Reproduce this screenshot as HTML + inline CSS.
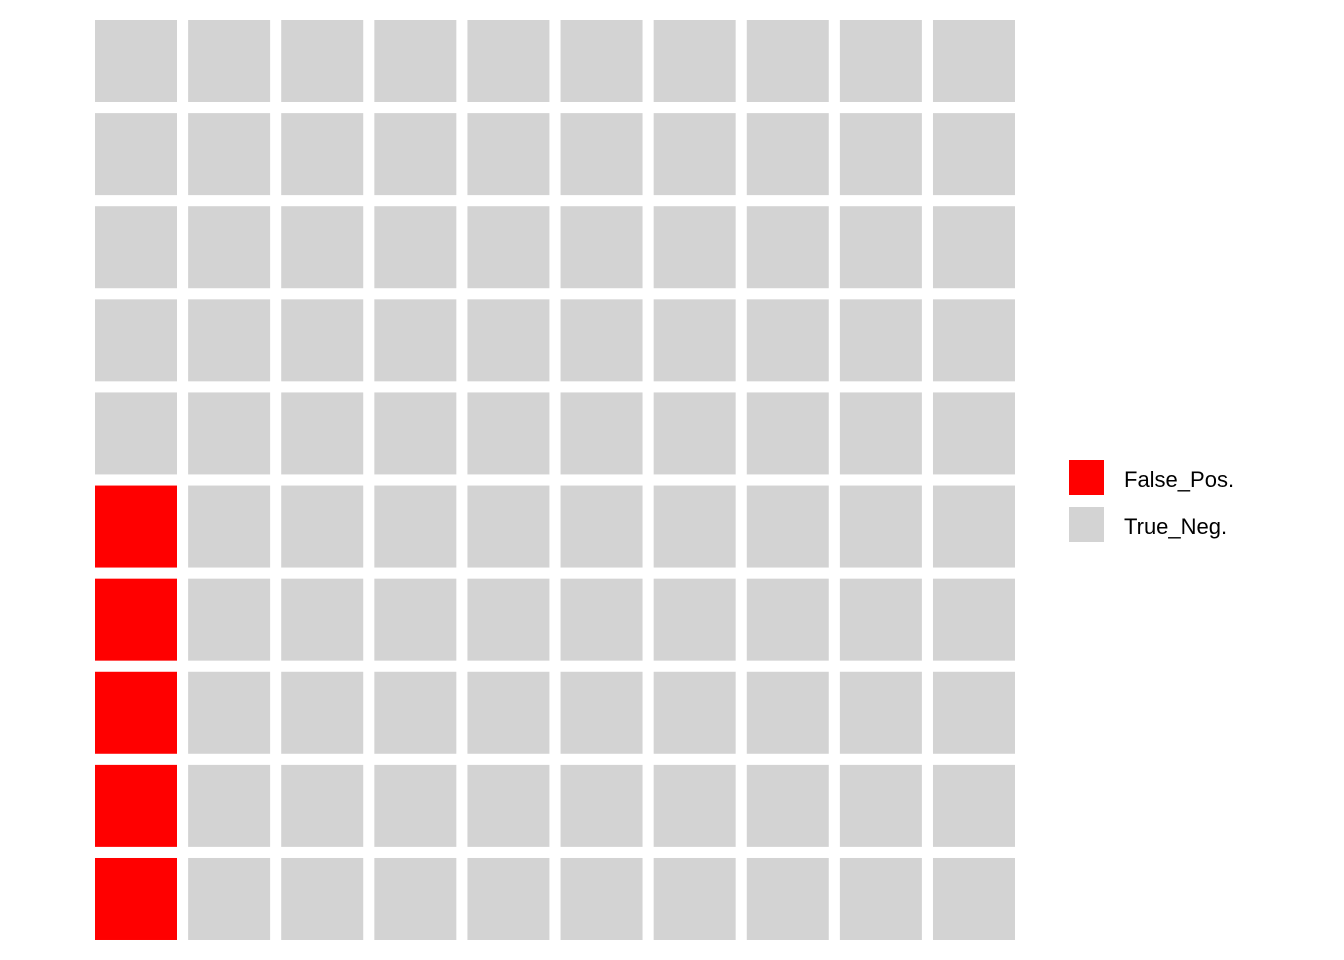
<!DOCTYPE html>
<html><head><meta charset="utf-8"><style>
body{margin:0;background:#fff;}
svg{display:block;font-family:"Liberation Sans",Arial,sans-serif;}
</style></head><body>
<svg id="chart" width="1344" height="960"></svg>
<script>
const categories = ["False_Pos.", "True_Neg."];
const counts = [5, 95];
const colors = ["#FF0000", "#D3D3D3"];
const nRows = 10, nCols = 10;
const x0 = 95, y0 = 20, pitch = 93.11, cell = 82;
const svg = document.getElementById('chart');
const NS = 'http://www.w3.org/2000/svg';
function colX(c){ return x0 + c*pitch; }
function rowY(r){ return y0 + (nRows-1-r)*pitch; } // r=0 bottom
let idx = 0;
categories.forEach((cat, ci) => {
  for (let k = 0; k < counts[ci]; k++) {
    const c = Math.floor(idx / nRows), r = idx % nRows;
    const rect = document.createElementNS(NS, 'rect');
    rect.setAttribute('x', colX(c)); rect.setAttribute('y', rowY(r));
    rect.setAttribute('width', cell); rect.setAttribute('height', cell);
    rect.setAttribute('fill', colors[ci]);
    
    
    svg.appendChild(rect);
    idx++;
  }
});
categories.forEach((cat, ci) => {
  const g = document.createElementNS(NS, 'g');
  
  
  const r = document.createElementNS(NS, 'rect');
  r.setAttribute('x', 1069); r.setAttribute('y', 460 + ci*47);
  r.setAttribute('width', 35); r.setAttribute('height', 35);
  r.setAttribute('fill', colors[ci]);
  
  
  const t = document.createElementNS(NS, 'text');
  t.setAttribute('x', 1124); t.setAttribute('y', 487 + ci*47);
  t.setAttribute('font-size', '22'); t.setAttribute('fill', '#000');
  
  
  t.textContent = cat;
  g.appendChild(r); g.appendChild(t); svg.appendChild(g);
});
</script>
</body></html>
